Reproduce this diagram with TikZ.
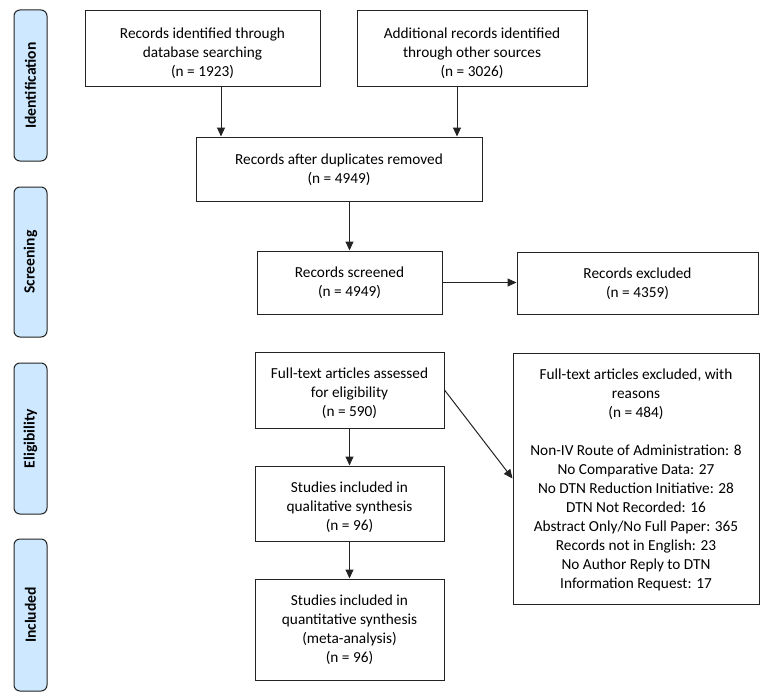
\documentclass[tikz,border=0pt]{standalone}
\usepackage{fontspec}
\setmainfont{Carlito}
\usetikzlibrary{arrows.meta}
\definecolor{sidefill}{RGB}{206,233,255}
\definecolor{edge}{RGB}{35,35,35}
\begin{document}
\begin{tikzpicture}[x=1pt,y=-1pt,
  box/.style={draw=edge, line width=1pt, inner sep=0pt},
  txt/.style={anchor=north, align=center, font=\fontsize{15.3}{19}\selectfont, inner sep=0pt},
  side/.style={draw=edge, line width=1pt, fill=sidefill, rounded corners=6pt, rotate=90,
    minimum height=33pt, inner sep=0pt, font=\fontsize{15.6}{19}\selectfont\bfseries},
  arr/.style={draw=edge, line width=1pt, -{Triangle[width=8pt,length=9pt]}}]
\useasboundingbox (0,0) rectangle (767,698);

% side phase labels
\node[side, minimum width=151pt] (s1) at (30.5,85.5) {Identification};
\node[side, minimum width=150pt] (s2) at (30.5,262) {Screening};
\node[side, minimum width=151pt] (s3) at (30.5,438.5) {Eligibility};
\node[side, minimum width=152pt] (s4) at (30.5,615) {Included};

% boxes
\node[box, minimum width=235pt, minimum height=76pt] (A) at (202.5,49) {};
\node[box, minimum width=230pt, minimum height=76pt] (B) at (472,49) {};
\node[box, minimum width=286pt, minimum height=64pt] (C) at (339,169) {};
\node[box, minimum width=185pt, minimum height=63pt] (D) at (349.5,282.5) {};
\node[box, minimum width=241pt, minimum height=62pt] (E) at (637.5,283) {};
\node[box, minimum width=189pt, minimum height=76pt] (F) at (349.5,390) {};
\node[box, minimum width=246pt, minimum height=251pt] (G) at (636,478.5) {};
\node[box, minimum width=189pt, minimum height=75pt] (H) at (349.5,503.5) {};
\node[box, minimum width=189pt, minimum height=101pt] (I) at (349.5,629.5) {};

% texts
\node[txt] (At) at ([yshift=-17pt]A.north) {Records identified through\\database searching\\(n = 1923)};
\node[txt] (Bt) at ([yshift=-17pt]B.north) {Additional records identified\\through other sources\\(n = 3026)};
\node[txt] (Ct) at ([yshift=-17pt]C.north) {Records after duplicates removed\\(n = 4949)};
\node[txt] (Dt) at ([yshift=-16pt]D.north) {Records screened\\(n = 4949)};
\node[txt] (Et) at ([yshift=-16pt]E.north) {Records excluded\\(n = 4359)};
\node[txt] (Ft) at ([yshift=-16pt]F.north) {Full-text articles assessed\\for eligibility\\(n = 590)};
\node[txt] (Gt) at ([yshift=-16pt]G.north) {Full-text articles excluded, with\\reasons\\(n = 484)\\[19pt]
Non-IV Route of Administration: 8\\No Comparative Data: 27\\No DTN Reduction Initiative: 28\\DTN Not Recorded: 16\\Abstract Only/No Full Paper: 365\\Records not in English: 23\\No Author Reply to DTN\\Information Request: 17};
\node[txt] (Ht) at ([yshift=-16pt]H.north) {Studies included in\\qualitative synthesis\\(n = 96)};
\node[txt] (It) at ([yshift=-16pt]I.north) {Studies included in\\quantitative synthesis\\(meta-analysis)\\(n = 96)};

% connectors
\draw[arr] ([xshift=18.5pt]A.south) -- ([xshift=18.5pt]A.south |- C.north);
\draw[arr] ([xshift=-15pt]B.south) -- ([xshift=-15pt]B.south |- C.north);
\draw[arr] (C.south -| D.north) -- (D.north);
\draw[arr] (D.east) -- (D.east -| E.west);
\draw[arr] (F.east) -- (G.west);
\draw[arr] (F.south) -- (H.north);
\draw[arr] (H.south) -- (I.north);
\end{tikzpicture}
\end{document}
